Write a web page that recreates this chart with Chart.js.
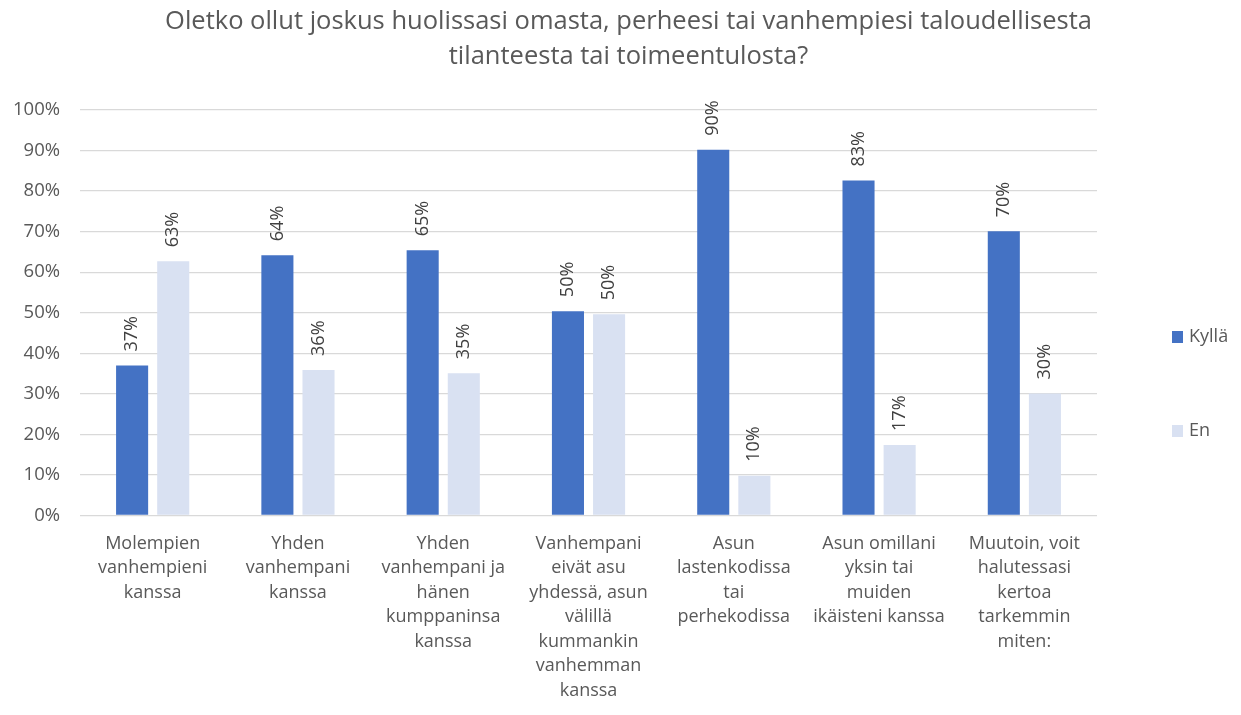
<!DOCTYPE html>
<html>
<head>
<meta charset="utf-8">
<script src="https://cdn.jsdelivr.net/npm/chart.js@4"></script>
<style>
  html, body { margin: 0; padding: 0; background: #ffffff; }
  #wrap { width: 1241px; height: 715px; position: relative; }
</style>
</head>
<body>
<div id="wrap"><canvas id="c" width="1241" height="715"></canvas></div>
<script>
const titleLines = [
  'Oletko ollut joskus huolissasi omasta, perheesi tai vanhempiesi taloudellisesta',
  'tilanteesta tai toimeentulosta?'
];
const categories = [
  ['Molempien', 'vanhempieni', 'kanssa'],
  ['Yhden', 'vanhempani', 'kanssa'],
  ['Yhden', 'vanhempani ja', 'hänen', 'kumppaninsa', 'kanssa'],
  ['Vanhempani', 'eivät asu', 'yhdessä, asun', 'välillä', 'kummankin', 'vanhemman', 'kanssa'],
  ['Asun', 'lastenkodissa', 'tai', 'perhekodissa'],
  ['Asun omillani', 'yksin tai', 'muiden', 'ikäisteni kanssa'],
  ['Muutoin, voit', 'halutessasi', 'kertoa', 'tarkemmin', 'miten:']
];
const seriesNames = ['Kyllä', 'En'];
const kylla = [37.0, 64.2, 65.4, 50.4, 90.2, 82.6, 70.1];
const en = [62.7, 35.9, 35.1, 49.6, 9.8, 17.4, 30.1];
const yTicks = [0, 10, 20, 30, 40, 50, 60, 70, 80, 90, 100];

const TEXT = '#595959';
const FONT = '"Open Sans", Lato, sans-serif';
const colors = ['#4472C4', '#D9E1F2'];

const titlePlugin = {
  id: 'centerTitle',
  afterDraw(chart) {
    const ctx = chart.ctx;
    ctx.save();
    ctx.fillStyle = TEXT;
    ctx.font = '25.5px ' + FONT;
    ctx.textAlign = 'center';
    ctx.textBaseline = 'middle';
    const cx = chart.width / 2 + 8;
    ctx.fillText(titleLines[0], cx, 22);
    ctx.fillText(titleLines[1], cx, 57);
    ctx.restore();
  }
};

const labelPlugin = {
  id: 'barLabels',
  afterDatasetsDraw(chart) {
    const ctx = chart.ctx;
    ctx.save();
    ctx.fillStyle = '#404040';
    ctx.font = '18px ' + FONT;
    ctx.textAlign = 'left';
    ctx.textBaseline = 'middle';
    chart.data.datasets.forEach((ds, di) => {
      const meta = chart.getDatasetMeta(di);
      meta.data.forEach((bar, i) => {
        const txt = Math.round(ds.data[i]) + '%';
        ctx.save();
        ctx.translate(bar.x, bar.y - 14);
        ctx.rotate(-Math.PI / 2);
        ctx.fillText(txt, 0, 0);
        ctx.restore();
      });
    });
    ctx.restore();
  }
};

const legendPlugin = {
  id: 'sideLegend',
  afterDraw(chart) {
    const ctx = chart.ctx;
    const a = chart.chartArea;
    const x = a.right + 75;
    const ys = [a.top + 227, a.top + 321];
    ctx.save();
    ctx.font = '18px ' + FONT;
    ctx.textBaseline = 'middle';
    ctx.textAlign = 'left';
    chart.data.datasets.forEach((ds, i) => {
      ctx.fillStyle = ds.backgroundColor;
      ctx.fillRect(x, ys[i] - 6, 11, 12);
      ctx.fillStyle = TEXT;
      ctx.fillText(ds.label, x + 17, ys[i]);
    });
    ctx.restore();
  }
};

new Chart(document.getElementById('c'), {
  type: 'bar',
  data: {
    labels: categories,
    datasets: [
      { label: seriesNames[0], data: kylla, backgroundColor: colors[0] },
      { label: seriesNames[1], data: en, backgroundColor: colors[1] }
    ]
  },
  options: {
    responsive: false,
    animation: false,
    devicePixelRatio: 1,
    categoryPercentage: 0.566,
    barPercentage: 0.78,
    layout: { padding: { left: -7, right: 144, top: 110, bottom: -4 } },
    plugins: {
      legend: { display: false },
      tooltip: { enabled: false },
      title: { display: false }
    },
    scales: {
      x: {
        grid: { display: false, drawTicks: false },
        border: { display: false },
        ticks: {
          color: TEXT,
          font: { family: FONT, size: 18, lineHeight: '24.5px' },
          maxRotation: 0, minRotation: 0, autoSkip: false, padding: 16
        }
      },
      y: {
        min: 0, max: 100,
        afterBuildTicks(scale) { scale.ticks = yTicks.map(v => ({ value: v })); },
        grid: { color: '#D9D9D9', lineWidth: 1.3, drawTicks: false },
        border: { display: false },
        ticks: {
          color: TEXT,
          font: { family: FONT, size: 18.5 },
          padding: 20,
          callback: v => v + '%'
        }
      }
    }
  },
  plugins: [labelPlugin, legendPlugin, titlePlugin]
});
</script>
</body>
</html>
